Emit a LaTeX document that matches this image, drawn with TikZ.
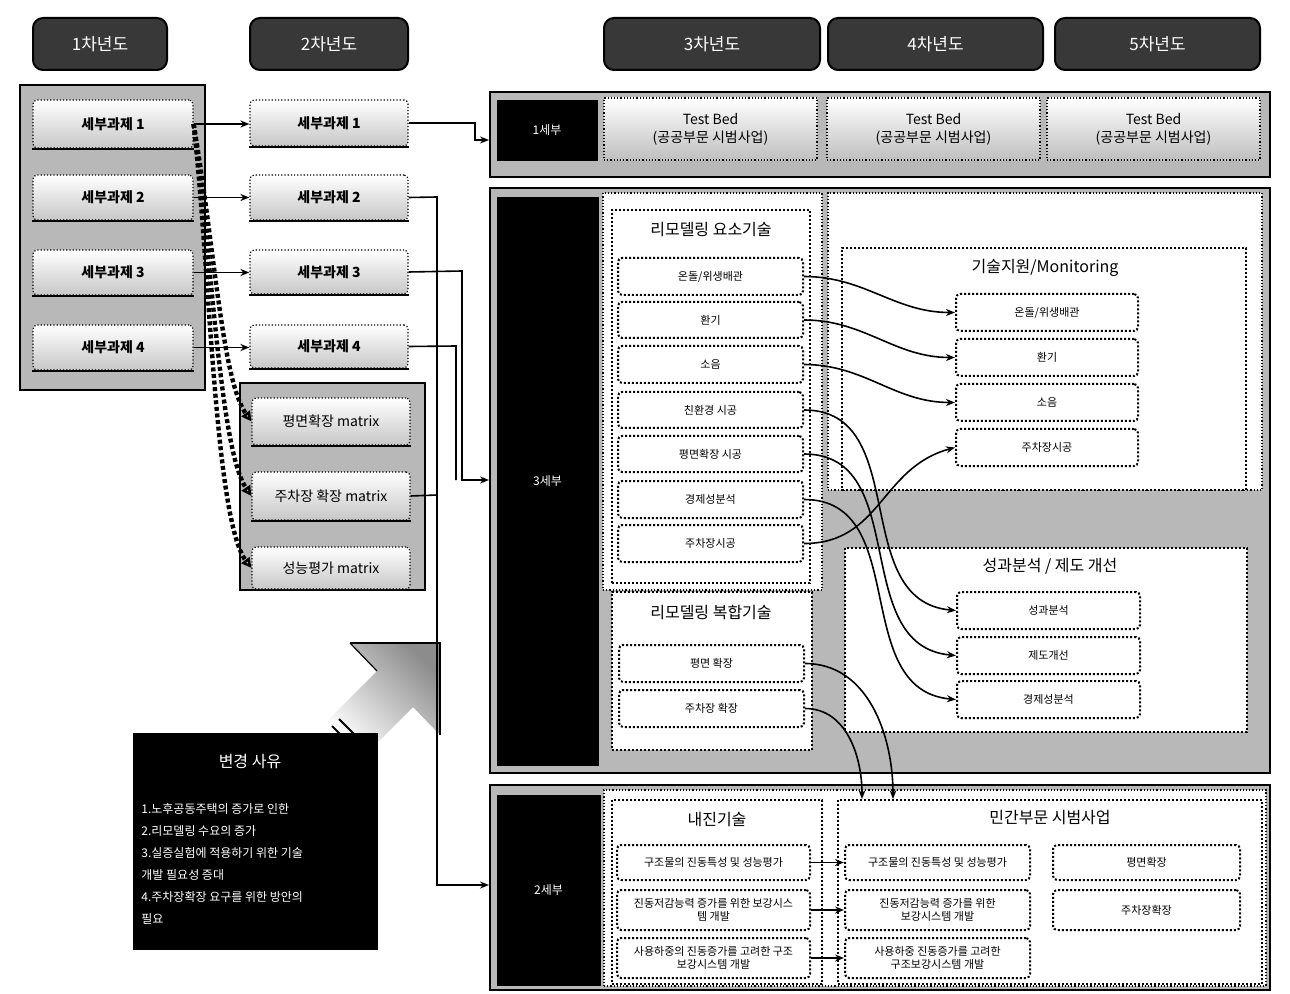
\documentclass[tikz,border=0pt]{standalone}
\usepackage{fontspec}
\setmainfont{Noto Sans CJK KR}
\usetikzlibrary{arrows.meta,fit,shadings}
\tikzset{
 hdr/.style={draw=black, fill=black!78, rounded corners=5pt, inner sep=0pt, text=white, font=\fontsize{8.5}{9}\selectfont, line width=1pt},
 cont/.style={draw=black, fill=black!28, inner sep=0pt, line width=1pt},
 lbl/.style={fill=black, draw=black, inner sep=0pt, text=white, font=\fontsize{6}{7}\selectfont},
 wreg/.style={fill=white, draw=black, densely dotted, inner sep=0pt, line width=0.6pt},
 inbox/.style={fill=white, draw=black, densely dotted, line width=1pt, inner sep=0pt},
 sub/.style={draw=black, densely dotted, top color=white, bottom color=black!22, rounded corners=2pt, inner sep=0pt, line width=0.6pt, font=\bfseries\fontsize{7}{8}\selectfont},
 mat/.style={draw=black, densely dotted, top color=white, bottom color=black!22, rounded corners=2pt, inner sep=0pt, line width=0.6pt, font=\fontsize{7}{8}\selectfont},
 tb/.style={draw=black, densely dotted, top color=white, bottom color=black!25, inner sep=0pt, line width=0.6pt, align=center, font=\fontsize{7}{9}\selectfont},
 el/.style={draw=black, densely dotted, fill=white, rounded corners=2pt, inner sep=0pt, line width=1pt, align=center, font=\fontsize{5.5}{6.5}\selectfont},
 ttl/.style={inner sep=1pt, font=\fontsize{8}{9}\selectfont},
 conn/.style={-{Stealth[length=4.5pt,width=3.5pt]}, line width=0.8pt},
 ln/.style={line width=0.8pt},
 dchain/.style={line width=2.2pt, dash pattern=on 2pt off 1.3pt, -{Triangle[open,length=5pt,width=5pt]}},
}
% box from pixel corners (x1,y1)-(x2,y2)
\newcommand\bx[7]{\node[#1, minimum width={(#5-#3)*0.5pt}, minimum height={(#6-#4)*0.5pt}] (#2) at ({(#3+#5)/2},{(#4+#6)/2}) {#7};}
\begin{document}
\begin{tikzpicture}[x=0.5pt,y=-0.5pt]
\fill[white] (0,0) rectangle (1290,994);
\useasboundingbox (0,0) rectangle (1290,994);

% headers
\bx{hdr}{h1}{33}{18}{167}{70}{1차년도}
\bx{hdr}{h2}{250}{18}{408}{70}{2차년도}
\bx{hdr}{h3}{604}{18}{820}{70}{3차년도}
\bx{hdr}{h4}{828}{18}{1043}{70}{4차년도}
\bx{hdr}{h5}{1055}{18}{1260}{70}{5차년도}

% first-year column
\node[cont, fit={(20,85)(205,390)}] (c1) {};
\bx{sub}{a1}{33}{100}{193}{148}{세부과제 1}
\bx{sub}{a2}{33}{175}{193}{220}{세부과제 2}
\bx{sub}{a3}{33}{250}{193}{295}{세부과제 3}
\bx{sub}{a4}{33}{325}{193}{370}{세부과제 4}

% second-year column
\bx{sub}{b1}{250}{100}{408}{146}{세부과제 1}
\bx{sub}{b2}{250}{175}{408}{220}{세부과제 2}
\bx{sub}{b3}{250}{250}{408}{294}{세부과제 3}
\bx{sub}{b4}{250}{325}{408}{368}{세부과제 4}
\node[cont, fit={(240,383)(425,590)}] (c2) {};
\bx{mat}{m1}{252}{398}{410}{445}{평면확장 matrix}
\bx{mat}{m2}{252}{472}{410}{520}{주차장 확장 matrix}
\bx{mat}{m3}{252}{547}{410}{589}{성능평가 matrix}
\foreach \n in {a1,a2,a3,a4,b1,b2,b3,b4,m1,m2} \draw[line width=1pt] (\n.south west) -- (\n.south east);

% row 1 (1세부)
\node[cont, fit={(490,92)(1270,177)}] (r1) {};
\bx{lbl}{l1}{497}{100}{597}{160}{1세부}
\bx{tb}{t1}{604}{98}{817}{160}{Test Bed\\(공공부문 시범사업)}
\bx{tb}{t2}{827}{98}{1040}{160}{Test Bed\\(공공부문 시범사업)}
\bx{tb}{t3}{1047}{98}{1260}{160}{Test Bed\\(공공부문 시범사업)}

% row 2 (3세부)
\node[cont, fit={(490,188)(1270,773)}] (r3) {};
\bx{lbl}{l3}{497}{197}{598}{765}{3세부}
\node[wreg, fit={(603,193)(822,590)}] (w1) {};
\node[wreg, fit={(828,193)(1262,490)}] (w2) {};
\node[inbox, fit={(612,210)(810,583)}] (et) {};
\node[ttl] (ett) at (711,230) {리모델링 요소기술};
\bx{el}{e1}{618}{258}{803}{295}{온돌/위생배관}
\bx{el}{e2}{618}{302}{803}{338}{환기}
\bx{el}{e3}{618}{346}{803}{383}{소음}
\bx{el}{e4}{618}{392}{803}{428}{친환경 시공}
\bx{el}{e5}{618}{436}{803}{472}{평면확장 시공}
\bx{el}{e6}{618}{481}{803}{518}{경제성분석}
\bx{el}{e7}{618}{525}{803}{562}{주차장시공}

\node[inbox, fit={(612,592)(812,750)}] (ft) {};
\node[ttl] (ftt) at (711,612) {리모델링 복합기술};
\bx{el}{f1}{619}{645}{804}{682}{평면 확장}
\bx{el}{f2}{619}{690}{804}{727}{주차장 확장}

\node[inbox, fit={(842,248)(1246,490)}] (mt) {};
\node[ttl] (mtt) at (1045,268) {기술지원/Monitoring};
\bx{el}{n1}{956}{294}{1138}{331}{온돌/위생배관}
\bx{el}{n2}{956}{339}{1138}{376}{환기}
\bx{el}{n3}{956}{384}{1138}{421}{소음}
\bx{el}{n4}{956}{429}{1138}{466}{주차장시공}

\node[inbox, fit={(845,548)(1247,732)}] (pt) {};
\node[ttl] (ptt) at (1050,566) {성과분석 / 제도 개선};
\bx{el}{p1}{957}{592}{1140}{629}{성과분석}
\bx{el}{p2}{957}{637}{1140}{674}{제도개선}
\bx{el}{p3}{957}{681}{1140}{718}{경제성분석}

% row 3 (2세부)
\node[cont, fit={(490,785)(1270,990)}] (r2) {};
\node[wreg, fit={(604,790)(1266,986)}] (w3) {};
\bx{lbl}{l2}{497}{795}{600}{985}{2세부}
\node[inbox, fit={(612,800)(822,984)}] (kt) {};
\node[ttl] (ktt) at (717,820) {내진기술};
\bx{el}{k1}{617}{845}{810}{880}{구조물의 진동특성 및 성능평가}
\bx{el}{k2}{617}{890}{810}{930}{진동저감능력 증가를 위한 보강시스\\템 개발}
\bx{el}{k3}{617}{938}{810}{978}{사용하중의 진동증가를 고려한 구조\\보강시스템 개발}
\node[inbox, fit={(838,800)(1262,984)}] (qt) {};
\node[ttl] (qtt) at (1050,818) {민간부문 시범사업};
\bx{el}{q1}{845}{845}{1030}{880}{구조물의 진동특성 및 성능평가}
\bx{el}{q2}{845}{890}{1030}{930}{진동저감능력 증가를 위한\\보강시스템 개발}
\bx{el}{q3}{845}{938}{1030}{978}{사용하중 진동증가를 고려한\\구조보강시스템 개발}
\bx{el}{q4}{1053}{845}{1240}{880}{평면확장}
\bx{el}{q5}{1053}{890}{1240}{930}{주차장확장}

% change-reason box and big arrow
\shade[bottom color=white, top color=black!45, shading angle=-45]
  (327,721) -- (377,671) -- (350,643) -- (440,643) -- (440,735) -- (413,707) -- (363,757) -- cycle;
\draw[line width=0.6pt] (350,643) -- (440,643) -- (440,735);
\draw[line width=0.6pt] (350,643) -- (377,671);
\draw[line width=1pt] (332,726) -- (368,762);
\draw[line width=1pt] (339,719) -- (375,755);
\node[fill=black, inner sep=0pt, fit={(133,733)(378,950)}] (cr) {};
\node[text=white, font=\fontsize{8}{9}\selectfont] (crt) at (250,762) {변경 사유};
\node[text=white, anchor=north west, align=left, inner sep=0pt, font=\fontsize{6}{11}\selectfont] (crx) at (141,803)
 {1.노후공동주택의 증가로 인한\\2.리모델링 수요의 증가\\3.실증실험에 적용하기 위한 기술\\개발 필요성 증대\\4.주차장확장 요구를 위한 방안의\\필요};

% connectors year1 -> year2
\foreach \i in {1,2,3,4} \draw[conn] (a\i.east) -- (a\i.east -| b\i.west);
\draw[dchain] (a1.east) .. controls (215,250) and (222,380) .. (m1.west);
\draw[dchain] (a1.east) .. controls (212,260) and (220,450) .. (m2.west);
\draw[dchain] (a1.east) .. controls (210,270) and (215,520) .. (m3.west);

% connectors year2 -> rows
\draw[conn] (b1.east) -- (475,123) -- (475,140) -- (r1.west |- 0,140);
\draw[conn] (b2.east) -- (437,197) -- (437,885) -- (r2.west |- 0,885);
\draw[conn] (b3.east) -- (462,271) -- (462,480) -- (r3.west |- 0,480);
\draw[ln] (b4.east) -- (456,346) -- (456,480);
\draw[ln] (m2.east) -- (437,495);

% curved connectors in 3세부
\draw[conn] (e1.east) to[out=0,in=180] (n1.west);
\draw[conn] (e2.east) to[out=0,in=180] (n2.west);
\draw[conn] (e3.east) to[out=0,in=180] (n3.west);
\draw[conn] (e7.east) to[out=0,in=195,looseness=1.1] (n4.west);
\draw[conn] (e4.east) to[out=0,in=175,looseness=1.1] (p1.west);
\draw[conn] (e5.east) to[out=0,in=175,looseness=1.1] (p2.west);
\draw[conn] (e6.east) to[out=0,in=175,looseness=1.1] (p3.west);
\draw[conn] (f1.east) to[out=0,in=90] (qt.north -| 893,0);
\draw[conn] (f2.east) to[out=0,in=90] (qt.north -| 862,0);

% 2세부 connectors
\foreach \i in {1,2,3} \draw[conn] (k\i.east) -- (k\i.east -| q\i.west);
\end{tikzpicture}
\end{document}
